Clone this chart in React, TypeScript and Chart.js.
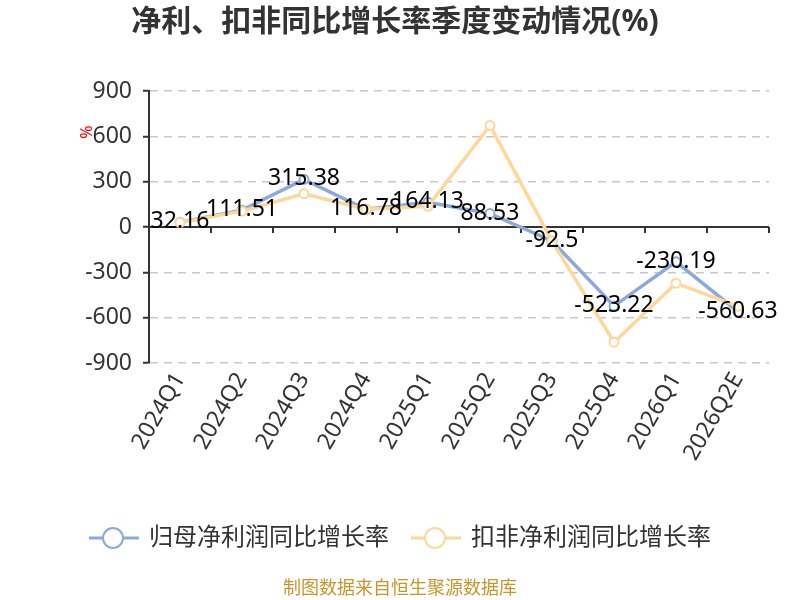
import { useEffect, useRef } from 'react';
import { Chart, registerables } from 'chart.js';

Chart.register(...registerables);

const quarters = ['2024Q1', '2024Q2', '2024Q3', '2024Q4', '2025Q1', '2025Q2', '2025Q3', '2025Q4', '2026Q1', '2026Q2E'];
const netProfitGrowth = [32.16, 111.51, 315.38, 116.78, 164.13, 88.53, -92.5, -523.22, -230.19, -560.63];
const deductedGrowth = [30, 105, 220, 118, 137, 672, -93, -762, -372, -525];
const seriesNames = ['归母净利润同比增长率', '扣非净利润同比增长率'];
const seriesColors = ['#8aaadc', '#ffd799'];

const FONT = '"Noto Sans", "Noto Sans CJK SC", sans-serif';

const decorPlugin = {
    id: 'decor',
    beforeDatasetsDraw(chart: any) {
        const { ctx, chartArea, scales } = chart;
        const y0 = scales.y.getPixelForValue(0);
        const n = quarters.length;
        const step = (chartArea.right - chartArea.left) / n;
        ctx.save();
        ctx.strokeStyle = '#333';
        ctx.lineWidth = 2;
        ctx.beginPath();
        ctx.moveTo(chartArea.left, y0);
        ctx.lineTo(chartArea.right, y0);
        for (let i = 0; i <= n; i++) {
            const x = chartArea.left + i * step;
            ctx.moveTo(x, y0);
            ctx.lineTo(x, y0 + 6);
        }
        ctx.stroke();
        ctx.restore();
    },
    afterDatasetsDraw(chart: any) {
        const { ctx } = chart;
        const meta = chart.getDatasetMeta(0);
        ctx.save();
        ctx.font = `23px ${FONT}`;
        ctx.fillStyle = '#000';
        ctx.textAlign = 'center';
        ctx.textBaseline = 'alphabetic';
        meta.data.forEach((pt: any, i: number) => {
            ctx.fillText(String(netProfitGrowth[i]), pt.x, pt.y + 6);
        });
        ctx.restore();
    },
    afterDraw(chart: any) {
        const { ctx } = chart;
        ctx.save();
        // title
        ctx.font = `bold 30px ${FONT}`;
        ctx.fillStyle = '#333';
        ctx.textAlign = 'center';
        ctx.textBaseline = 'middle';
        ctx.fillText('净利、扣非同比增长率季度变动情况(%)', 395, 22);

        // y axis name
        ctx.save();
        ctx.translate(87, 132);
        ctx.rotate(-Math.PI / 2);
        ctx.font = `16px ${FONT}`;
        ctx.fillStyle = '#ff0000';
        ctx.fillText('%', 0, 0);
        ctx.restore();

        // legend
        const items = [
            { x: 89, name: seriesNames[0], color: seriesColors[0] },
            { x: 411, name: seriesNames[1], color: seriesColors[1] },
        ];
        items.forEach((it) => {
            const cy = 538;
            ctx.strokeStyle = it.color;
            ctx.lineWidth = 3;
            ctx.beginPath();
            ctx.moveTo(it.x, cy);
            ctx.lineTo(it.x + 50, cy);
            ctx.stroke();
            ctx.beginPath();
            ctx.arc(it.x + 24, cy, 10, 0, Math.PI * 2);
            ctx.fillStyle = '#fff';
            ctx.fill();
            ctx.lineWidth = 2;
            ctx.stroke();
            ctx.font = `24px ${FONT}`;
            ctx.fillStyle = '#333';
            ctx.textAlign = 'left';
            ctx.textBaseline = 'middle';
            ctx.fillText(it.name, it.x + 60, cy);
        });

        // source
        ctx.font = `18px ${FONT}`;
        ctx.fillStyle = '#c9952b';
        ctx.textAlign = 'center';
        ctx.textBaseline = 'middle';
        ctx.fillText('制图数据来自恒生聚源数据库', 400, 589);
        ctx.restore();
    },
};

export default function App() {
    const canvasRef = useRef<HTMLCanvasElement | null>(null);

    useEffect(() => {
        const chart = new Chart(canvasRef.current as HTMLCanvasElement, {
            type: 'line',
            data: {
                labels: quarters,
                datasets: [
                    {
                        label: seriesNames[0],
                        data: netProfitGrowth,
                        borderColor: seriesColors[0],
                        backgroundColor: '#fff',
                        borderWidth: 3.5,
                        pointRadius: 4.5,
                        pointBorderWidth: 2,
                        pointBackgroundColor: '#fff',
                        pointBorderColor: seriesColors[0],
                        tension: 0,
                        order: 1,
                    },
                    {
                        label: seriesNames[1],
                        data: deductedGrowth,
                        borderColor: seriesColors[1],
                        backgroundColor: '#fff',
                        borderWidth: 3.5,
                        pointRadius: 4.5,
                        pointBorderWidth: 2,
                        pointBackgroundColor: '#fff',
                        pointBorderColor: seriesColors[1],
                        tension: 0,
                        order: 0,
                    },
                ],
            },
            options: {
                responsive: true,
                maintainAspectRatio: false,
                animation: false,
                layout: { padding: { top: 91, right: 31, left: 0, bottom: 0 } },
                plugins: {
                    legend: { display: false },
                    title: { display: false },
                    tooltip: { enabled: false },
                },
                scales: {
                    x: {
                        offset: true,
                        afterFit: (s: any) => { s.height = 237; },
                        grid: { display: false, offset: true },
                        border: { display: false },
                        ticks: {
                            color: '#333',
                            font: { size: 23, family: FONT },
                            minRotation: 60,
                            maxRotation: 60,
                            padding: -3,
                            autoSkip: false,
                        },
                    },
                    y: {
                        min: -900,
                        max: 900,
                        afterFit: (s: any) => { s.width = 149; },
                        grid: {
                            color: '#c8c8c8',
                            lineWidth: 1.5,
                            tickColor: '#333',
                            tickLength: 6,
                            tickWidth: 2,
                        },
                        border: { display: true, color: '#333', width: 2, dash: [8, 6] },
                        ticks: {
                            stepSize: 300,
                            color: '#333',
                            padding: 11,
                            font: { size: 23, family: FONT },
                        },
                    },
                },
            },
            plugins: [decorPlugin],
        });
        return () => chart.destroy();
    }, []);

    return (
        <div style={{ position: 'fixed', left: 0, top: 0, width: 800, height: 600, background: '#fff' }}>
            <canvas ref={canvasRef} />
        </div>
    );
}
